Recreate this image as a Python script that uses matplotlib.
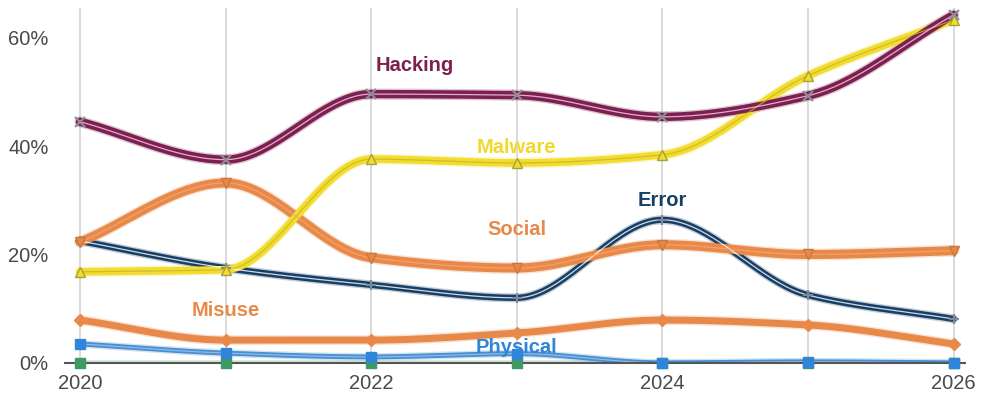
import numpy as np
import matplotlib.pyplot as plt

plt.rcParams['font.family'] = ['Liberation Sans', 'DejaVu Sans']

# data (percent of breaches)
years = [2020, 2021, 2022, 2023, 2024, 2025, 2026]
hacking = [44.5, 37.5, 49.6, 49.4, 45.4, 49.3, 64.2]
malware = [16.8, 17.2, 37.6, 36.9, 38.4, 53.0, 63.3]
social = [22.3, 33.2, 19.4, 17.5, 21.8, 20.0, 20.7]
error = [22.5, 17.5, 14.4, 12.0, 26.4, 12.5, 8.1]
misuse = [7.9, 4.2, 4.2, 5.5, 7.9, 7.0, 3.5]
physical = [3.5, 1.8, 1.1, 1.7, 0.0, 0.2, 0.0]
environmental = [0.0, 0.0, 0.0, 0.0, 0.0, 0.0, 0.0]

tick_years = [2020, 2022, 2024, 2026]
tick_pct = [0, 20, 40, 60]


# monotone cubic curve through the points, only for drawing smooth lines
def smooth(x, y, n=40):
    x = np.asarray(x, float)
    y = np.asarray(y, float)
    h = np.diff(x)
    d = np.diff(y) / h
    m = np.zeros_like(y)
    for i in range(1, len(y) - 1):
        if d[i - 1] * d[i] > 0:
            m[i] = 2 * d[i - 1] * d[i] / (d[i - 1] + d[i])
    m[0] = d[0]
    m[-1] = d[-1]
    t = np.linspace(0, 1, n)
    xs, ys = [], []
    for i in range(len(x) - 1):
        h00 = 2 * t**3 - 3 * t**2 + 1
        h10 = t**3 - 2 * t**2 + t
        h01 = -2 * t**3 + 3 * t**2
        h11 = t**3 - t**2
        xs.append(x[i] + t * h[i])
        ys.append(h00 * y[i] + h10 * h[i] * m[i] + h01 * y[i + 1] + h11 * h[i] * m[i + 1])
    return np.concatenate(xs), np.concatenate(ys)


series = [
    # values, colour, core colour, width, marker, marker colour, edge
    (environmental, "#3f9a62", "#3f9a62", 2.0, "s", "#3f9a62", "#3f9a62"),
    (physical, "#4a8fd0", "#9cc6ee", 3.5, "s", "#2f86d8", "#2f86d8"),
    (misuse, "#e8894a", "#e8894a", 5.0, "D", "#e8894a", "#e8894a"),
    (error, "#173f66", "#ffffff", 4.5, "+", "#7f8a96", "#7f8a96"),
    (social, "#e8894a", "#f2a877", 6.5, "v", "#e8894a", "#c9783f"),
    (malware, "#f2dc2e", "#c9b52a", 5.5, "^", "#f2dc2e", "#a8a23a"),
    (hacking, "#7d1f50", "#f3d6e6", 6.0, "x", "#8e8e99", "#8e8e99"),
]

fig = plt.figure(figsize=(9.9, 3.97), dpi=100)
ax = fig.add_axes([0.066, 0.086, 0.909, 0.894])

for vals, col, core, lw, mk, mcol, medge in series:
    sx, sy = smooth(years, vals)
    ax.plot(sx, sy, color=col, lw=lw + 2, alpha=0.25, solid_capstyle="round", zorder=2)
    ax.plot(sx, sy, color=col, lw=lw, solid_capstyle="round", zorder=3)
    ax.plot(sx, sy, color=core, lw=0.9, alpha=0.8, zorder=4)
    ax.plot(years, vals, ls="none", marker=mk, ms=6.5, mfc=mcol, mec=medge,
            mew=1.5 if mk in "x+" else 1.0, zorder=5, clip_on=False)

labels = [
    ("Hacking", 2022.3, 54.8, "#7d1f50"),
    ("Malware", 2023.0, 39.7, "#f0d92c"),
    ("Social", 2023.0, 24.7, "#e8894a"),
    ("Error", 2024.0, 29.9, "#173f66"),
    ("Misuse", 2021.0, 9.6, "#e8894a"),
    ("Physical", 2023.0, 2.8, "#2f86d8"),
]
for txt, lx, ly, col in labels:
    ax.text(lx, ly, txt, color=col, fontsize=14.5, fontweight="bold",
            ha="center", va="center", zorder=6)

ax.set_xlim(2019.9, 2026.08)
ax.set_ylim(0, 65.5)
ax.set_xticks(years)
ax.set_xticklabels([str(y) if y in tick_years else "" for y in years])
ax.set_yticks(tick_pct)
ax.set_yticklabels([f"{p}%" for p in tick_pct])
ax.grid(axis="x", color="#d4d4d4", lw=1.2, zorder=0)
ax.tick_params(length=0, labelsize=14.5, colors="#4a4a4a")
ax.tick_params(axis="x", pad=8)
ax.tick_params(axis="y", pad=12)
for s in ["top", "right", "left"]:
    ax.spines[s].set_visible(False)
ax.spines["bottom"].set_color("#555555")
ax.spines["bottom"].set_linewidth(1.5)
ax.spines["bottom"].set_zorder(4)

fig.savefig("out.png", dpi=100)
